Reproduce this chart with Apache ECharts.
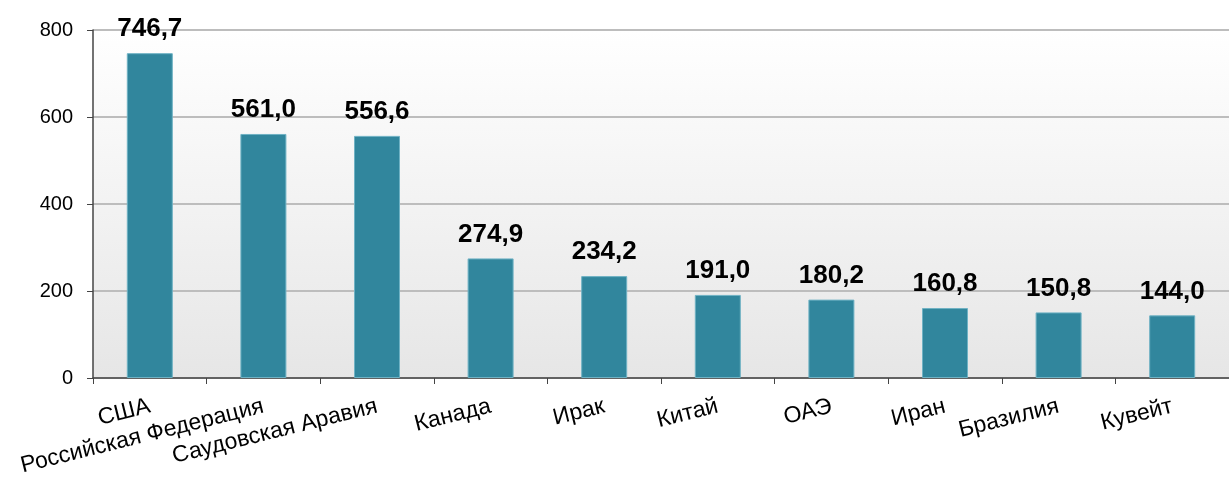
<!DOCTYPE html>
<html>
<head>
<meta charset="utf-8">
<script src="https://cdn.jsdelivr.net/npm/echarts@6/dist/echarts.min.js"></script>
<style>
  html, body { margin: 0; padding: 0; background: #fff; }
  #main { width: 1229px; height: 485px; }
</style>
</head>
<body>
<div id="main"></div>
<script>
// countries and values
const countries = ['США', 'Российская Федерация', 'Саудовская Аравия', 'Канада', 'Ирак',
    'Китай', 'ОАЭ', 'Иран', 'Бразилия', 'Кувейт'];
const values = [746.7, 561.0, 556.6, 274.9, 234.2, 191.0, 180.2, 160.8, 150.8, 144.0];
const yTicks = [0, 200, 400, 600, 800];

const chart = echarts.init(document.getElementById('main'), null, { renderer: 'canvas' });

const font = 'Liberation Sans, Arial, sans-serif';

const option = {
    animation: false,
    grid: {
        left: 93,
        right: -9,
        top: 30,
        bottom: 107,
        show: true,
        borderWidth: 0,
        backgroundColor: new echarts.graphic.LinearGradient(0, 0, 0, 1, [
            { offset: 0, color: '#ffffff' },
            { offset: 1, color: '#e6e6e6' }
        ])
    },
    xAxis: {
        type: 'category',
        data: countries,
        axisLine: { lineStyle: { color: '#444', width: 1.5 } },
        axisTick: { show: true, length: 6, lineStyle: { color: '#444' } },
        axisLabel: {
            interval: 0,
            rotate: 14,
            margin: 28,
            fontSize: 23,
            color: '#000',
            fontFamily: font
        }
    },
    yAxis: {
        type: 'value',
        min: yTicks[0],
        max: yTicks[yTicks.length - 1],
        interval: 200,
        axisLine: { show: true, lineStyle: { color: '#444', width: 1.5 } },
        axisTick: { show: true, length: 6, lineStyle: { color: '#444' } },
        axisLabel: { fontSize: 20, color: '#000', margin: 20, fontFamily: font },
        splitLine: { lineStyle: { color: '#bdbdbd', width: 2 } }
    },
    series: [{
        type: 'bar',
        data: values,
        barWidth: 46,
        itemStyle: {
            color: '#31869d',
            borderColor: '#6fb2c4',
            borderWidth: 1
        },
        label: {
            show: true,
            position: 'top',
            distance: 11,
            fontSize: 26,
            fontWeight: 'bold',
            color: '#000',
            fontFamily: font,
            formatter: p => p.value.toFixed(1).replace('.', ',')
        }
    }]
};

chart.setOption(option);
</script>
</body>
</html>
